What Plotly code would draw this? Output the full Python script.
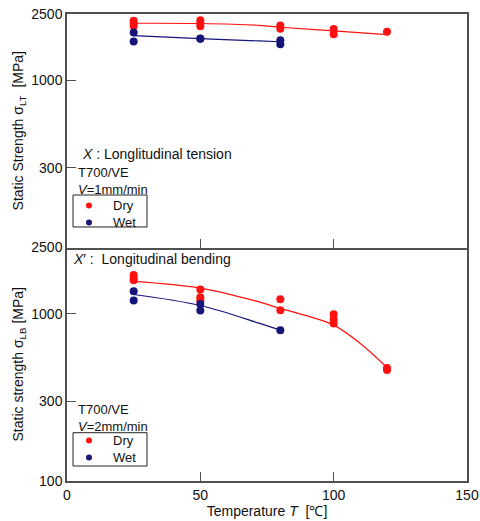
import plotly.graph_objects as go

# ---------------- data ----------------
# Upper panel: longitudinal tension, static strength [MPa]
tens_dry_T = [25, 25, 25, 50, 50, 50, 80, 80, 100, 100, 120]
tens_dry_S = [2280, 2200, 2120, 2290, 2200, 2110, 2130, 2040, 2030, 1890, 1960]
tens_wet_T = [25, 25, 50, 50, 80, 80]
tens_wet_S = [1935, 1710, 1785, 1775, 1740, 1650]
tens_dry_fit_T = [25, 50, 72, 80, 100, 120]
tens_dry_fit_S = [2200, 2193, 2140, 2083, 1979, 1880]
tens_wet_fit_T = [25, 50, 72, 80]
tens_wet_fit_S = [1854, 1780, 1724, 1705]

# Lower panel: longitudinal bending, static strength [MPa]
bend_dry_T = [25, 25, 25, 50, 50, 50, 80, 80, 100, 100, 100, 120, 120]
bend_dry_S = [1710, 1640, 1590, 1400, 1260, 1205, 1227, 1054, 995, 927, 877, 475, 462]
bend_wet_T = [25, 25, 50, 50, 80]
bend_wet_S = [1370, 1205, 1148, 1050, 800]
bend_dry_fit_T = [25, 50, 71, 80, 89, 100, 110, 120]
bend_dry_fit_S = [1567, 1428, 1193, 1079, 984, 857, 666, 478]
bend_wet_fit_T = [25, 50, 72, 80]
bend_wet_fit_S = [1308, 1124, 881, 800]

x_ticks = [0, 50, 100, 150]
y_ticks_lower = [100, 300, 1000, 2500]
y_ticks_upper = [300, 1000, 2500]
legend_labels = ["Dry", "Wet"]

RED = "#ff1010"
NAVY = "#15157a"
AX = "#505050"
FONT = "Liberation Sans, Arial, sans-serif"
MS = 8

fig = go.Figure()

# fit lines
fig.add_trace(go.Scatter(x=tens_dry_fit_T, y=tens_dry_fit_S, mode="lines", line=dict(color=RED, width=1.2, shape="spline"),
                         xaxis="x2", yaxis="y2", showlegend=False, hoverinfo="skip"))
fig.add_trace(go.Scatter(x=tens_wet_fit_T, y=tens_wet_fit_S, mode="lines", line=dict(color=NAVY, width=1.2, shape="spline"),
                         xaxis="x2", yaxis="y2", showlegend=False, hoverinfo="skip"))
fig.add_trace(go.Scatter(x=bend_dry_fit_T, y=bend_dry_fit_S, mode="lines", line=dict(color=RED, width=1.2, shape="spline"),
                         xaxis="x", yaxis="y", showlegend=False, hoverinfo="skip"))
fig.add_trace(go.Scatter(x=bend_wet_fit_T, y=bend_wet_fit_S, mode="lines", line=dict(color=NAVY, width=1.2, shape="spline"),
                         xaxis="x", yaxis="y", showlegend=False, hoverinfo="skip"))

# markers - upper
fig.add_trace(go.Scatter(x=tens_dry_T, y=tens_dry_S, mode="markers", name="Dry (tension)",
                         marker=dict(color=RED, size=MS), xaxis="x2", yaxis="y2", showlegend=False))
fig.add_trace(go.Scatter(x=tens_wet_T, y=tens_wet_S, mode="markers", name="Wet (tension)",
                         marker=dict(color=NAVY, size=MS), xaxis="x2", yaxis="y2", showlegend=False))
# markers - lower
fig.add_trace(go.Scatter(x=bend_dry_T, y=bend_dry_S, mode="markers", name="Dry (bending)",
                         marker=dict(color=RED, size=MS), xaxis="x", yaxis="y", showlegend=False))
fig.add_trace(go.Scatter(x=bend_wet_T, y=bend_wet_S, mode="markers", name="Wet (bending)",
                         marker=dict(color=NAVY, size=MS), xaxis="x", yaxis="y", showlegend=False))

common_x = dict(range=[0, 150], tickvals=x_ticks, ticks="inside", ticklen=9, tickcolor=AX, tickwidth=1.2,
                showline=True, linecolor=AX, linewidth=1.5, showgrid=False, zeroline=False,
                automargin=False)
common_y = dict(type="log", range=[2, 3.39794], ticks="inside", ticklen=9, tickcolor=AX, tickwidth=1.2,
                showline=True, linecolor=AX, linewidth=1.5, mirror=True, showgrid=False, zeroline=False,
                tickfont=dict(size=14, color="#111"), automargin=False)

fig.update_layout(
    width=480, height=521, autosize=False,
    margin=dict(l=67, r=13, t=14, b=40, autoexpand=False),
    paper_bgcolor="white", plot_bgcolor="white",
    font=dict(family=FONT, size=14, color="#111"),
    showlegend=False,
    # lower panel: its top border is the upper panel's bottom axis line (single line between panels)
    xaxis=dict(**common_x, anchor="y", mirror=False, tickfont=dict(size=14, color="#111"),
               title=dict(text="Temperature <i>T</i>  [℃]", font=dict(size=14), standoff=2)),
    xaxis2=dict(**common_x, anchor="y2", mirror=True, matches="x", showticklabels=False),
    yaxis=dict(**common_y, domain=[0, 0.5], anchor="x", tickvals=y_ticks_lower,
               ticktext=[str(v) for v in y_ticks_lower],
               title=dict(text="Static strength σ<sub>LB</sub> [MPa]", font=dict(size=14), standoff=4)),
    yaxis2=dict(**common_y, domain=[0.5, 1], anchor="x2", tickvals=y_ticks_upper,
                ticktext=[str(v) for v in y_ticks_upper],
                title=dict(text="Static Strength σ<sub>LT</sub>  [MPa]", font=dict(size=14), standoff=4)),
)

# ---- panel captions (paper coordinates of the plot area) ----
ann = [
    dict(text="<i>X</i> : Longlitudinal tension", x=0.035, y=0.700, size=14),
    dict(text="T700/VE<br><i>V</i>=1mm/min", x=0.025, y=0.643, size=13),
    dict(text="<i>X</i>′ :  Longitudinal bending", x=0.012, y=0.475, size=14),
    dict(text="T700/VE<br><i>V</i>=2mm/min", x=0.025, y=0.135, size=13),
]
for a in ann:
    fig.add_annotation(xref="paper", yref="paper", xanchor="left", yanchor="middle", x=a["x"], y=a["y"],
                       text=a["text"], showarrow=False, align="left", borderpad=0,
                       font=dict(size=a["size"], color="#111", family=FONT))

# ---- boxed keys (Dry / Wet), one per panel ----
def add_key(y_top, y_bot, row_y):
    fig.add_shape(type="rect", xref="paper", yref="paper", x0=0.015, x1=0.2, y0=y_bot, y1=y_top,
                  line=dict(color="#222", width=1), fillcolor="white", layer="above")
    for ry, col in zip(row_y, [RED, NAVY]):
        fig.add_shape(type="circle", xref="paper", yref="paper",
                      x0=0.055 - 0.0075, x1=0.055 + 0.0075, y0=ry - 0.0064, y1=ry + 0.0064,
                      line=dict(color=col, width=0), fillcolor=col, layer="above")
    fig.add_annotation(xref="paper", yref="paper", xanchor="left", yanchor="middle",
                       x=0.112, y=sum(row_y) / 2, text="<br>".join(legend_labels), align="left",
                       showarrow=False, borderpad=0, font=dict(size=13, color="#111", family=FONT))

add_key(0.6124, 0.5439, [0.5899, 0.5537])
add_key(0.1034, 0.0321, [0.0865, 0.0503])

fig.write_html("out.html")
